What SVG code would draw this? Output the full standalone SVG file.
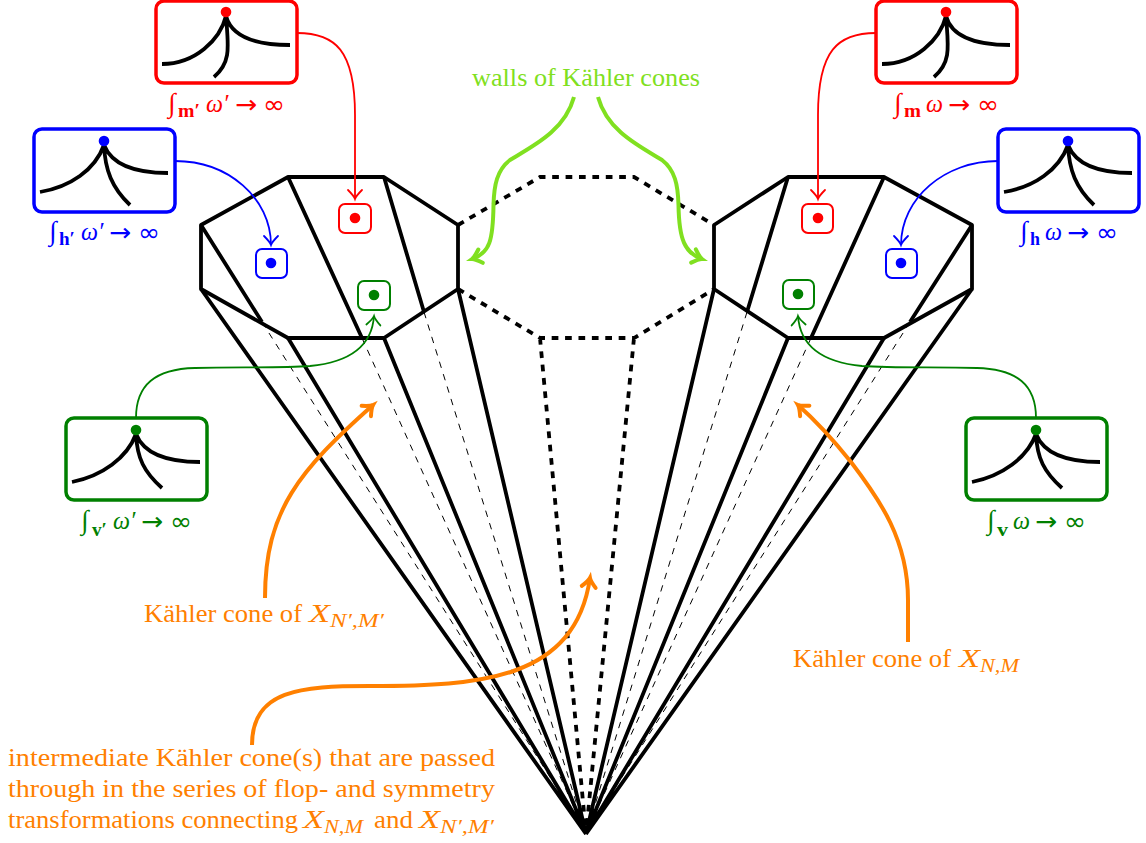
<svg xmlns="http://www.w3.org/2000/svg" width="1146" height="843" viewBox="0 0 1146 843">
<style>
text{font-family:"Liberation Serif","DejaVu Serif",serif;font-size:24.5px}
.o{fill:#ff8000}.r{fill:#f00}.b{fill:#00f}.g{fill:#008000}.l{fill:#80e020}
.s{font-size:18px}.bd{font-weight:bold}.i{font-style:italic}.int{font-size:27px;font-style:italic}
.sy{font-family:"DejaVu Sans",sans-serif;font-size:25px;font-weight:normal}
.e{fill:none;stroke:#000;stroke-width:3.8;stroke-linejoin:round}
.ed{fill:none;stroke:#000;stroke-width:3.8;stroke-dasharray:6.7 6.7}
.th{fill:none;stroke:#000;stroke-width:1;stroke-dasharray:6.5 6.5}
.bx{fill:#fff;stroke-width:3.5}
.sm{fill:#fff;stroke-width:2}
.t{fill:none;stroke:#000;stroke-width:3.8}
.c{fill:none;stroke-width:1.8}
.w{fill:none;stroke-width:4}
</style>
<defs>
<path id="ah" d="M-8,-7 Q-2,-1 1,0 Q-2,1 -8,7" fill="none" stroke-linecap="round"/>
<marker id="mr" markerUnits="userSpaceOnUse" markerWidth="20" markerHeight="20" refX="1" refY="0" viewBox="-10 -10 20 20" orient="auto"><use href="#ah" stroke="#f00" stroke-width="1.8"/></marker>
<marker id="mb" markerUnits="userSpaceOnUse" markerWidth="20" markerHeight="20" refX="1" refY="0" viewBox="-10 -10 20 20" orient="auto"><use href="#ah" stroke="#00f" stroke-width="1.8"/></marker>
<marker id="mg" markerUnits="userSpaceOnUse" markerWidth="20" markerHeight="20" refX="1" refY="0" viewBox="-10 -10 20 20" orient="auto"><use href="#ah" stroke="#008000" stroke-width="1.8"/></marker>
<marker id="mo" markerUnits="userSpaceOnUse" markerWidth="24" markerHeight="24" refX="1" refY="0" viewBox="-12 -12 24 24" orient="auto"><use href="#ah" stroke="#ff8000" stroke-width="4"/></marker>
<marker id="ml" markerUnits="userSpaceOnUse" markerWidth="24" markerHeight="24" refX="1" refY="0" viewBox="-12 -12 24 24" orient="auto"><use href="#ah" stroke="#80e020" stroke-width="4"/></marker>
</defs>
<rect width="1146" height="843" fill="#fff"/>
<g id="cones">
<path class="e" d="M201,225L288,177L384,177L458,225L458,289L384,338L288,338L201,289Z"/>
<path class="e" d="M714,225L788,177L884,177L972,225L972,289L884,338L788,338L714,289Z"/>
<path class="e" d="M201,225L262,322M288,177L362,338M384,177L424,312M972,225L910,322M884,177L811,338M788,177L747,312"/>
<path class="e" d="M201,289L586,834M288,338L586,834M384,338L586,834M458,289L586,834M972,289L586,834M884,338L586,834M788,338L586,834M714,289L586,834"/>
<path class="ed" d="M458,225L540,177L634,177L714,225M458,289L540,338L634,338L714,289M540,338L586,834M634,338L586,834"/>
<path class="th" d="M262,322L586,834M362,338L586,834M424,312L586,834M910,322L586,834M811,338L586,834M747,312L586,834"/>
</g>
<g id="connectors">
<path class="c" stroke="#f00" marker-end="url(#mr)" d="M297,33C335,33 355,50 355,115L355,199"/>
<path class="c" stroke="#00f" marker-end="url(#mb)" d="M175,161C228,161 271,198 271,245"/>
<path class="c" stroke="#008000" marker-end="url(#mg)" d="M136,418C136,385 155,369 195,368C240,367 280,368 310,366C352,362 372,345 374,316"/>
<path class="c" stroke="#f00" marker-end="url(#mr)" d="M876,33C838,33 818,50 818,115L818,199"/>
<path class="c" stroke="#00f" marker-end="url(#mb)" d="M998,161C945,161 901,198 901,245"/>
<path class="c" stroke="#008000" marker-end="url(#mg)" d="M1036,418C1036,385 1017,369 977,368C932,367 892,368 862,366C820,362 800,345 798,316"/>
<path class="w" stroke="#ff8000" marker-end="url(#mo)" d="M265,598C265,510 300,470 373,405"/>
<path class="w" stroke="#ff8000" marker-end="url(#mo)" d="M252,745C252,690 300,686 370,686C480,686 575,680 590,578"/>
<path class="w" stroke="#ff8000" marker-end="url(#mo)" d="M908,642L908,600C908,540 880,500 851,462C835,442 815,420 798,405"/>
<path class="w" stroke="#80e020" marker-end="url(#ml)" d="M574,97C565,130 535,145 510,160C497,170 494,185 493.5,205C493,240 490,253 472,259"/>
<path class="w" stroke="#80e020" marker-end="url(#ml)" d="M598,97C607,130 637,145 662,160C675,170 678,185 678.5,205C679,240 685,253 702,259"/>
</g>
<g id="node-m-prime">
<rect class="bx" stroke="#f00" x="156" y="1" width="141" height="82" rx="8"/>
<path class="t" d="M162,64C195,64 220,40 226,16M226,16C232,38 258,45 290,45M226,16C228,45 232,62 214,77"/>
<circle class="r" cx="226" cy="12" r="5.3"/>
<text class="int r" x="168" y="112">∫</text><text class="s bd r" x="178" y="117" textLength="22" lengthAdjust="spacingAndGlyphs">m′</text><text class="i r" x="206" y="112" textLength="17" lengthAdjust="spacingAndGlyphs">ω</text><text class="i r" x="223" y="112">′</text><text class="sy r" x="235" y="113" textLength="22" lengthAdjust="spacingAndGlyphs">→</text><text class="sy r" x="263" y="113" textLength="22" lengthAdjust="spacingAndGlyphs">∞</text>
</g>
<g id="node-h-prime">
<rect class="bx" stroke="#00f" x="34" y="129" width="141" height="83" rx="8"/>
<path class="t" d="M40,192C70,187 95,170 104,145M104,145C112,165 135,173 168,173M104,145C105,170 112,188 130,205"/>
<circle class="b" cx="104" cy="141" r="5.3"/>
<text class="int b" x="49" y="240">∫</text><text class="s bd b" x="59" y="245" textLength="16" lengthAdjust="spacingAndGlyphs">h′</text><text class="i b" x="81" y="240" textLength="17" lengthAdjust="spacingAndGlyphs">ω</text><text class="i b" x="98" y="240">′</text><text class="sy b" x="109" y="241" textLength="22" lengthAdjust="spacingAndGlyphs">→</text><text class="sy b" x="138" y="241" textLength="22" lengthAdjust="spacingAndGlyphs">∞</text>
</g>
<g id="node-v-prime">
<rect class="bx" stroke="#008000" x="66" y="418" width="141" height="82" rx="8"/>
<path class="t" d="M72,482C102,476 127,458 136,434M136,434C144,454 167,462 200,462M136,434C137,458 144,472 162,488"/>
<circle class="g" cx="136" cy="430" r="5.3"/>
<text class="int g" x="81" y="529">∫</text><text class="s bd g" x="92" y="536" textLength="15" lengthAdjust="spacingAndGlyphs">v′</text><text class="i g" x="113" y="529" textLength="17" lengthAdjust="spacingAndGlyphs">ω</text><text class="i g" x="130" y="529">′</text><text class="sy g" x="141" y="530" textLength="22" lengthAdjust="spacingAndGlyphs">→</text><text class="sy g" x="170" y="530" textLength="22" lengthAdjust="spacingAndGlyphs">∞</text>
</g>
<g id="node-m">
<rect class="bx" stroke="#f00" x="876" y="1" width="141" height="82" rx="8"/>
<path class="t" d="M882,64C915,64 940,40 946,16M946,16C952,38 978,45 1010,45M946,16C948,45 952,62 934,77"/>
<circle class="r" cx="946" cy="12" r="5.3"/>
<text class="int r" x="894" y="112">∫</text><text class="s bd r" x="904" y="117" textLength="17" lengthAdjust="spacingAndGlyphs">m</text><text class="i r" x="926" y="112" textLength="17" lengthAdjust="spacingAndGlyphs">ω</text><text class="sy r" x="948" y="113" textLength="22" lengthAdjust="spacingAndGlyphs">→</text><text class="sy r" x="977" y="113" textLength="22" lengthAdjust="spacingAndGlyphs">∞</text>
</g>
<g id="node-h">
<rect class="bx" stroke="#00f" x="998" y="129" width="141" height="83" rx="8"/>
<path class="t" d="M1004,192C1034,187 1059,170 1068,145M1068,145C1076,165 1099,173 1132,173M1068,145C1069,170 1076,188 1094,205"/>
<circle class="b" cx="1068" cy="141" r="5.3"/>
<text class="int b" x="1020" y="240">∫</text><text class="s bd b" x="1030" y="245" textLength="10" lengthAdjust="spacingAndGlyphs">h</text><text class="i b" x="1045" y="240" textLength="17" lengthAdjust="spacingAndGlyphs">ω</text><text class="sy b" x="1067" y="241" textLength="22" lengthAdjust="spacingAndGlyphs">→</text><text class="sy b" x="1096" y="241" textLength="22" lengthAdjust="spacingAndGlyphs">∞</text>
</g>
<g id="node-v">
<rect class="bx" stroke="#008000" x="966" y="418" width="141" height="82" rx="8"/>
<path class="t" d="M972,482C1002,476 1027,458 1036,434M1036,434C1044,454 1067,462 1100,462M1036,434C1037,458 1044,472 1062,488"/>
<circle class="g" cx="1036" cy="430" r="5.3"/>
<text class="int g" x="987" y="529">∫</text><text class="s bd g" x="997" y="536" textLength="11" lengthAdjust="spacingAndGlyphs">v</text><text class="i g" x="1013" y="529" textLength="17" lengthAdjust="spacingAndGlyphs">ω</text><text class="sy g" x="1035" y="530" textLength="22" lengthAdjust="spacingAndGlyphs">→</text><text class="sy g" x="1064" y="530" textLength="22" lengthAdjust="spacingAndGlyphs">∞</text>
</g>
<g id="dot-m-prime"><rect class="sm" stroke="#f00" x="339" y="204" width="32" height="29" rx="6"/><circle class="r" cx="355" cy="218" r="5.3"/></g>
<g id="dot-h-prime"><rect class="sm" stroke="#00f" x="256" y="249" width="31" height="29" rx="6"/><circle class="b" cx="271" cy="263" r="5.3"/></g>
<g id="dot-v-prime"><rect class="sm" stroke="#008000" x="358" y="281" width="32" height="29" rx="6"/><circle class="g" cx="374" cy="295" r="5.3"/></g>
<g id="dot-m"><rect class="sm" stroke="#f00" x="802" y="204" width="31" height="29" rx="6"/><circle class="r" cx="818" cy="218" r="5.3"/></g>
<g id="dot-h"><rect class="sm" stroke="#00f" x="886" y="249" width="31" height="29" rx="6"/><circle class="b" cx="901" cy="263" r="5.3"/></g>
<g id="dot-v"><rect class="sm" stroke="#008000" x="783" y="280" width="31" height="29" rx="6"/><circle class="g" cx="798" cy="294" r="5.3"/></g>
<g id="labels">
<text class="l" x="472" y="86" textLength="228" lengthAdjust="spacingAndGlyphs">walls of Kähler cones</text>
<text class="o" x="144" y="622" textLength="158" lengthAdjust="spacingAndGlyphs">Kähler cone of</text><text class="o i" x="309" y="622" textLength="21" lengthAdjust="spacingAndGlyphs">X</text><text class="o s i" x="330" y="627" textLength="54" lengthAdjust="spacingAndGlyphs">N′,M′</text>
<text class="o" x="793" y="667" textLength="158" lengthAdjust="spacingAndGlyphs">Kähler cone of</text><text class="o i" x="959" y="667" textLength="21" lengthAdjust="spacingAndGlyphs">X</text><text class="o s i" x="980" y="672" textLength="39" lengthAdjust="spacingAndGlyphs">N,M</text>
<text class="o" x="8" y="766" textLength="487" lengthAdjust="spacingAndGlyphs">intermediate Kähler cone(s) that are passed</text>
<text class="o" x="8" y="797" textLength="487" lengthAdjust="spacingAndGlyphs">through in the series of flop- and symmetry</text>
<text class="o" x="8" y="828" textLength="290" lengthAdjust="spacingAndGlyphs">transformations connecting</text><text class="o i" x="303" y="828" textLength="21" lengthAdjust="spacingAndGlyphs">X</text><text class="o s i" x="324" y="833" textLength="39" lengthAdjust="spacingAndGlyphs">N,M</text><text class="o" x="374" y="828" textLength="39" lengthAdjust="spacingAndGlyphs">and</text><text class="o i" x="419" y="828" textLength="21" lengthAdjust="spacingAndGlyphs">X</text><text class="o s i" x="440" y="833" textLength="54" lengthAdjust="spacingAndGlyphs">N′,M′</text>
</g>
</svg>
